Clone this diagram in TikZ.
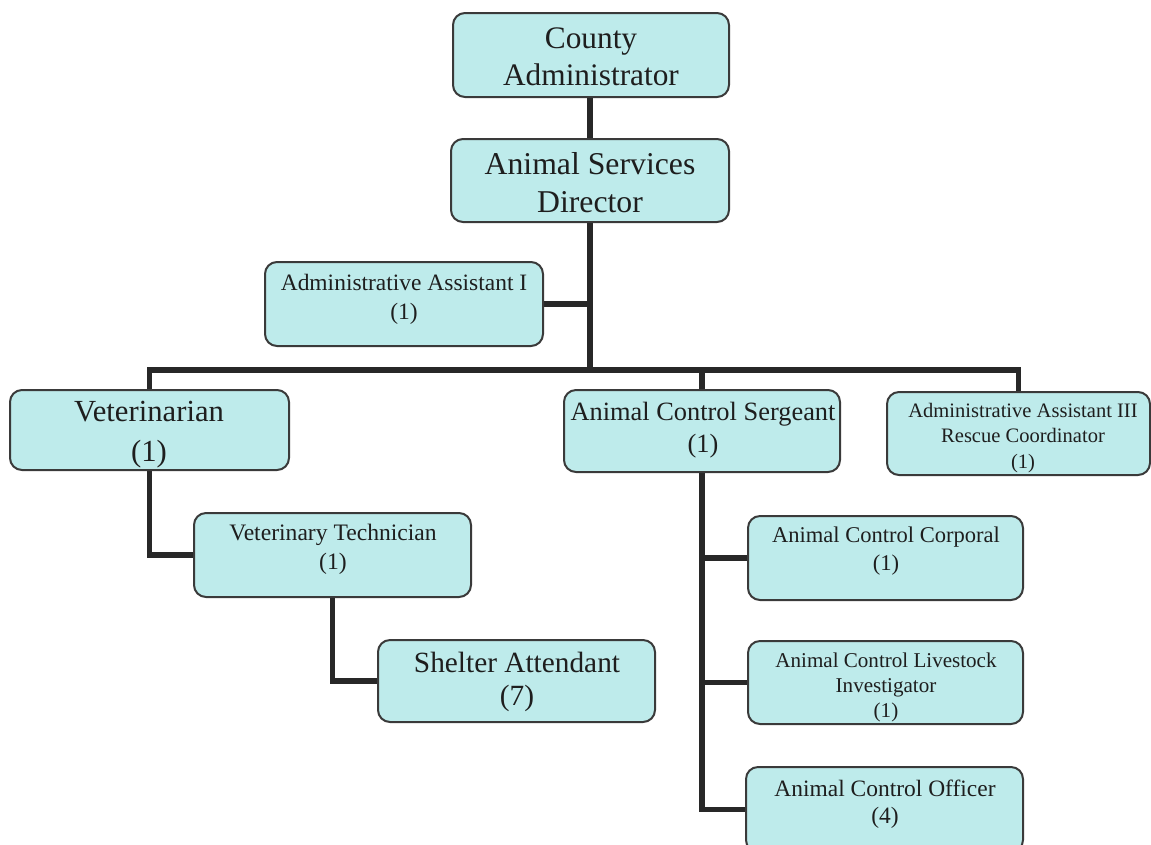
\documentclass[tikz,border=0pt]{standalone}
\usepackage{fontspec}
\setmainfont{Liberation Serif}
\usetikzlibrary{fit,backgrounds}
\definecolor{boxfill}{RGB}{190,235,235}
\definecolor{boxline}{RGB}{58,58,58}
\definecolor{connline}{RGB}{40,40,40}
\definecolor{ink}{RGB}{30,30,30}
\newcommand{\fs}[2]{\fontsize{#1}{#2}\selectfont}
\tikzset{
  orgbox/.style={draw=boxline, fill=boxfill, line width=1.5pt, rounded corners=9pt, inner sep=0pt},
  orgtext/.style={align=center, text=ink, inner sep=0pt},
  conn/.style={draw=connline, line width=3.8pt}
}
\begin{document}
\begin{tikzpicture}[x=0.75pt, y=-0.75pt]
\useasboundingbox (0,0) rectangle (1151,844);

% boxes
\node[orgbox, fit={(453,13) (729,97)}]   (ca)   {};
\node[orgbox, fit={(451,139) (729,222)}] (asd)  {};
\node[orgbox, fit={(265,262) (543,346)}] (aai)  {};
\node[orgbox, fit={(10,390) (289,470)}]  (vet)  {};
\node[orgbox, fit={(564,390) (840,472)}] (serg) {};
\node[orgbox, fit={(887,392) (1150,475)}] (aa3) {};
\node[orgbox, fit={(194,513) (471,597)}] (vt)   {};
\node[orgbox, fit={(378,640) (655,722)}] (sa)   {};
\node[orgbox, fit={(748,516) (1023,600)}] (corp) {};
\node[orgbox, fit={(748,641) (1023,724)}] (live) {};
\node[orgbox, fit={(746,767) (1023,852)}] (off)  {};

% titles
\node[orgtext, font=\fs{23.5pt}{27.75pt}] (ca-t)   at (591,57)   {County\\Administrator};
\node[orgtext, font=\fs{23.8pt}{28.5pt}]  (asd-t)  at (590,183)  {Animal Services\\Director};
\node[orgtext, font=\fs{17.6pt}{21.75pt}] (aai-t)  at (404,299)  {Administrative Assistant I\\(1)};
\node[orgtext, font=\fs{23pt}{30pt}]      (vet-t)  at (149,435)  {Veterinarian\\(1)};
\node[orgtext, font=\fs{19.8pt}{24pt}]    (serg-t) at (703,430)  {Animal Control Sergeant\\(1)};
\node[orgtext, font=\fs{15.4pt}{19pt}]    (aa3-t)  at (1023,438) {Administrative Assistant III\\Rescue Coordinator\\(1)};
\node[orgtext, font=\fs{17.7pt}{21.75pt}] (vt-t)   at (333,549.5) {Veterinary Technician\\(1)};
\node[orgtext, font=\fs{22pt}{24.75pt}]   (sa-t)   at (517,681.5) {Shelter Attendant\\(7)};
\node[orgtext, font=\fs{16.9pt}{21pt}]    (corp-t) at (886,551)  {Animal Control Corporal\\(1)};
\node[orgtext, font=\fs{15.8pt}{18.75pt}] (live-t) at (886,687)  {Animal Control Livestock\\Investigator\\(1)};
\node[orgtext, font=\fs{17.6pt}{20pt}]    (off-t)  at (885,804)  {Animal Control Officer\\(4)};

% connectors, kept behind the boxes
\coordinate (bus) at (590,370);
\begin{scope}[on background layer]
\draw[conn] (asd.north |- ca.south) -- (asd.north);
\draw[conn] (asd.south) -- (asd.south |- bus);
\draw[conn] (aai.east) -- (aai.east -| asd.south);
\draw[conn] (vet.north) -- (vet.north |- bus) -- (aa3.north |- bus) -- (aa3.north);
\draw[conn] (serg.north) -- (serg.north |- bus);
\draw[conn] (vet.south) |- (vt.west);
\draw[conn] (vt.south) |- (sa.west);
\draw[conn] (serg.south) |- (corp.west);
\draw[conn] (serg.south) |- (live.west);
\draw[conn] (serg.south) |- (off.west);
\end{scope}
\end{tikzpicture}
\end{document}
